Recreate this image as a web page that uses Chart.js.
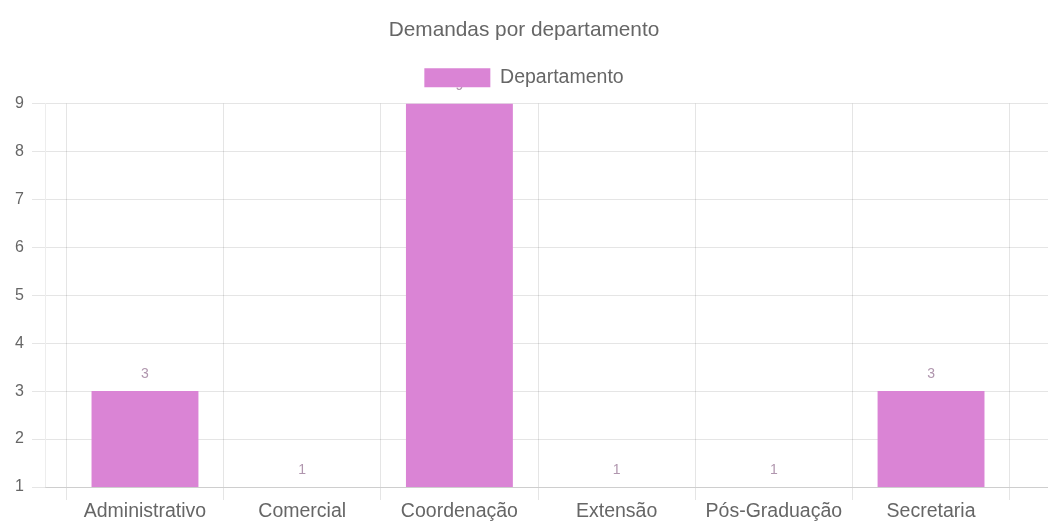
<!DOCTYPE html>
<html>
<head>
<meta charset="utf-8">
<script src="https://cdn.jsdelivr.net/npm/chart.js@4"></script>
<style>
  html, body { margin: 0; padding: 0; background: #fff; overflow: hidden; }
  #wrap { position: relative; width: 1048px; height: 522px; }
</style>
</head>
<body>
<div id="wrap"><canvas id="c"></canvas></div>
<script>
const categories = ['Administrativo', 'Comercial', 'Coordenação', 'Extensão', 'Pós-Graduação', 'Secretaria'];
const demandas = [3, 1, 9, 1, 1, 3];
const seriesName = 'Departamento';
const chartTitle = 'Demandas por departamento';
const yMin = 1;
const yMax = 9;

const FONT = "'Liberation Sans', Arial, Helvetica, sans-serif";
const PINK = '#DA84D5';

const valueLabels = {
  id: 'valueLabels',
  beforeDraw(chart) {
    const ctx = chart.ctx;
    const meta = chart.getDatasetMeta(0);
    const data = chart.data.datasets[0].data;
    ctx.save();
    ctx.font = '14px ' + FONT;
    ctx.fillStyle = '#b096ae';
    ctx.textAlign = 'center';
    ctx.textBaseline = 'bottom';
    meta.data.forEach((el, i) => {
      ctx.fillText(String(data[i]), el.x, el.y - 10);
    });
    ctx.restore();
  }
};

new Chart(document.getElementById('c'), {
  type: 'bar',
  data: {
    labels: categories,
    datasets: [{
      label: seriesName,
      data: demandas,
      backgroundColor: PINK,
      borderColor: PINK,
      borderWidth: 0,
      barPercentage: 0.85,
      categoryPercentage: 0.8
    }]
  },
  options: {
    responsive: true,
    maintainAspectRatio: false,
    animation: false,
    layout: { padding: { left: 0, right: 0, top: 0, bottom: 0 } },
    plugins: {
      title: {
        display: true,
        text: chartTitle,
        color: '#666',
        font: { family: FONT, size: 20.8, weight: 'normal' },
        padding: { top: 18, bottom: 11 }
      },
      legend: {
        display: true,
        labels: {
          color: '#666',
          boxWidth: 66,
          boxHeight: 19,
          padding: 14,
          font: { family: FONT, size: 19.5 }
        }
      },
      tooltip: { enabled: false }
    },
    scales: {
      x: {
        offset: true,
        grid: { offset: true, color: 'rgba(0,0,0,0.1)', tickLength: 13 },
        border: { color: 'rgba(0,0,0,0.1)' },
        ticks: { color: '#666', font: { family: FONT, size: 19.5 }, padding: 0, maxRotation: 0 },
        afterBuildTicks: (scale) => {
          scale._startValue = -0.636;
          scale._valueRange = 6.38;
        },
        afterFit: (scale) => { scale.height = 35; }
      },
      xTopSpacer: {
        type: 'category',
        position: 'top',
        grid: { display: false },
        border: { display: false },
        ticks: { display: false },
        afterFit: (scale) => { scale.height = 6; }
      },
      y: {
        min: yMin,
        max: yMax,
        grid: { color: 'rgba(0,0,0,0.1)', tickLength: 13 },
        border: { color: 'rgba(0,0,0,0.07)' },
        ticks: { stepSize: 1, color: '#666', font: { family: FONT, size: 16 }, padding: 8 },
        afterFit: (scale) => { scale.width = 45; }
      }
    }
  },
  plugins: [valueLabels]
});
</script>
</body>
</html>
